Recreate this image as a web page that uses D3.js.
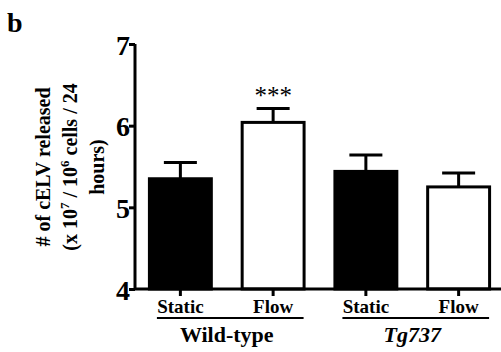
<!DOCTYPE html>
<html>
<head>
<meta charset="utf-8">
<script src="https://cdn.jsdelivr.net/npm/d3@7"></script>
<style>
  body { margin: 0; background: #fff; }
  text { font-family: "Liberation Serif", "Times New Roman", serif; font-weight: bold; }
</style>
</head>
<body>
<svg class="chart" width="501" height="352"></svg>
<script>
// data
var conditions = ["Static", "Flow", "Static", "Flow"];
var groups = ["Wild-type", "Tg737"];
var means = [5.35, 6.04, 5.44, 5.25];
var sems = [0.20, 0.17, 0.20, 0.17];
var fills = ["#000", "#fff", "#000", "#fff"];
var yTicks = [4, 5, 6, 7];

var svg = d3.select("svg.chart");

var x = d3.scaleBand()
          .domain(d3.range(means.length))
          .range([134, 505])
          .paddingInner(0.3)
          .paddingOuter(0.15);

var y = d3.scaleLinear()
          .domain([4, 7])
          .range([289, 44]);

// panel letter
svg.append("text")
   .attr("x", 7).attr("y", 32)
   .attr("font-size", 28)
   .text("b");

// bars
svg.selectAll("rect.bar")
   .data(means)
   .enter()
   .append("rect")
   .attr("class", "bar")
   .attr("x", function (d, i) { return x(i) + 1.5; })
   .attr("y", function (d) { return y(d); })
   .attr("width", x.bandwidth() - 3)
   .attr("height", function (d) { return y(4) - y(d); })
   .attr("fill", function (d, i) { return fills[i]; })
   .attr("stroke", "#000")
   .attr("stroke-width", 3);

// error bars (upper only)
var err = svg.selectAll("g.err")
   .data(means)
   .enter()
   .append("g")
   .attr("class", "err")
   .attr("stroke", "#000")
   .attr("stroke-width", 3);

err.append("line")
   .attr("x1", function (d, i) { return x(i) + x.bandwidth() / 2; })
   .attr("x2", function (d, i) { return x(i) + x.bandwidth() / 2; })
   .attr("y1", function (d) { return y(d); })
   .attr("y2", function (d, i) { return y(d + sems[i]); });

err.append("line")
   .attr("x1", function (d, i) { return x(i) + x.bandwidth() / 2 - 16.5; })
   .attr("x2", function (d, i) { return x(i) + x.bandwidth() / 2 + 16.5; })
   .attr("y1", function (d, i) { return y(d + sems[i]); })
   .attr("y2", function (d, i) { return y(d + sems[i]); });

// significance
svg.append("text")
   .attr("x", x(1) + x.bandwidth() / 2)
   .attr("y", y(means[1] + sems[1]) - 5)
   .attr("text-anchor", "middle")
   .attr("font-size", 25)
   .style("font-weight", "normal")
   .text("***");

// y axis
var yAxis = svg.append("g")
   .attr("transform", "translate(135,0)")
   .call(d3.axisLeft(y).tickValues(yTicks).tickSize(6).tickFormat(d3.format("d")));
yAxis.select(".domain").attr("stroke-width", 3).attr("d", "M0," + y(7) + "V" + y(4));
yAxis.selectAll(".tick line").attr("stroke-width", 3);
yAxis.selectAll(".tick text")
   .attr("font-size", 28)
   .attr("fill", "#000")
   .attr("x", -5)
   .attr("dy", "0.36em");

// x axis
var xAxis = svg.append("g")
   .attr("transform", "translate(0," + y(4) + ")")
   .call(d3.axisBottom(x).tickSize(7).tickFormat(function (d) { return conditions[d]; }));
xAxis.select(".domain").attr("stroke-width", 3).attr("d", "M134,0H501");
xAxis.selectAll(".tick line").attr("stroke-width", 3);
xAxis.selectAll(".tick text")
   .attr("font-size", 19)
   .attr("fill", "#000")
   .attr("y", 11)
   .attr("dy", "0.71em");

// group underlines and labels
var grp = svg.selectAll("g.grp")
   .data(groups)
   .enter()
   .append("g")
   .attr("class", "grp");

grp.append("line")
   .attr("x1", function (d, i) { return x(i * 2) + 9; })
   .attr("x2", function (d, i) { return x(i * 2 + 1) + x.bandwidth() - 2; })
   .attr("y1", 318).attr("y2", 318)
   .attr("stroke", "#000")
   .attr("stroke-width", 2);

grp.append("text")
   .attr("x", function (d, i) { return (x(i * 2) + x(i * 2 + 1) + x.bandwidth()) / 2; })
   .attr("y", 342)
   .attr("text-anchor", "middle")
   .attr("font-size", 22)
   .attr("font-style", function (d, i) { return i == 1 ? "italic" : "normal"; })
   .text(function (d) { return d; });

// y title
var yt = svg.append("text")
   .attr("transform", "translate(50,167) rotate(-90)")
   .attr("text-anchor", "middle")
   .attr("font-size", 20);
yt.append("tspan").attr("x", 0).attr("dy", 0).text("# of cELV released");
var l2 = yt.append("tspan").attr("x", 0).attr("dy", 27);
l2.append("tspan").text("(x 10");
l2.append("tspan").attr("dy", -8).attr("font-size", 13).text("7");
l2.append("tspan").attr("dy", 8).text(" / 10");
l2.append("tspan").attr("dy", -8).attr("font-size", 13).text("6");
l2.append("tspan").attr("dy", 8).text(" cells / 24");
yt.append("tspan").attr("x", 0).attr("dy", 27).text("hours)");
</script>
</body>
</html>
